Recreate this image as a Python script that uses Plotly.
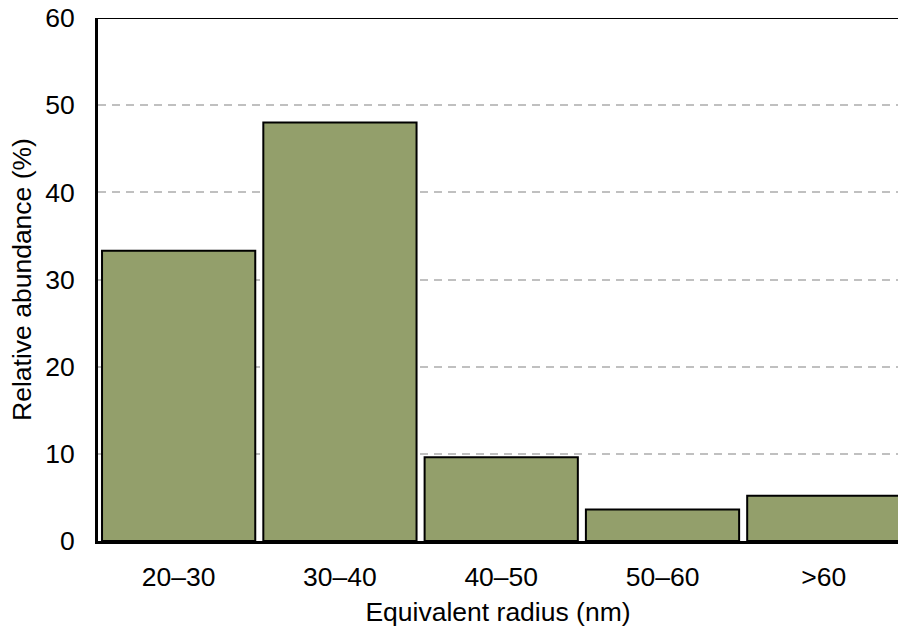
import plotly.graph_objects as go

# Size classes of equivalent radius and their relative abundance (%)
categories = ["20–30", "30–40", "40–50", "50–60", ">60"]
abundance = [33.3, 48.0, 9.6, 3.6, 5.2]
y_ticks = [0, 10, 20, 30, 40, 50, 60]

FONT = "Liberation Sans, Arial, sans-serif"

fig = go.Figure(
    go.Bar(
        x=categories,
        y=abundance,
        width=0.95,
        marker=dict(color="#939F6B", line=dict(color="black", width=2)),
    )
)

# Top border of the plotting frame
fig.add_shape(
    type="line", xref="paper", yref="y", x0=0, x1=1, y0=60, y1=60,
    line=dict(color="black", width=2),
)

fig.update_layout(
    width=898,
    height=631,
    margin=dict(l=98, r=0, t=18, b=90),
    plot_bgcolor="white",
    paper_bgcolor="white",
    showlegend=False,
    font=dict(family=FONT, size=26.5, color="black"),
    xaxis=dict(
        range=[-0.5, 4.46],
        showline=True,
        linecolor="black",
        linewidth=3,
        ticks="",
        showgrid=False,
        ticklabelstandoff=10,
        tickfont=dict(size=26.5),
        title=dict(text="Equivalent radius (nm)", font=dict(size=26.5), standoff=12),
    ),
    yaxis=dict(
        range=[0, 60],
        tickvals=y_ticks,
        showline=True,
        linecolor="black",
        linewidth=3,
        ticks="",
        zeroline=False,
        showgrid=True,
        gridcolor="#c0c0c0",
        gridwidth=2,
        griddash="8px,6px",
        ticklabelstandoff=15,
        tickfont=dict(size=26.5),
        title=dict(text="Relative abundance (%)", font=dict(size=26.5), standoff=6),
    ),
)

fig.write_html("out.html")
